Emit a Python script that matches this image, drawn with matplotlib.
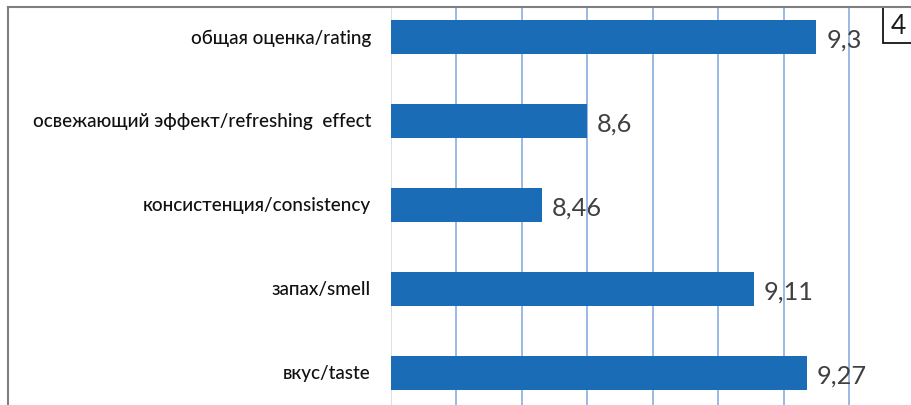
import numpy as np
import matplotlib
matplotlib.use("Agg")
import matplotlib.pyplot as plt
from matplotlib.patches import Rectangle

categories = ["общая оценка/rating",
              "освежающий эффект/refreshing  effect",
              "консистенция/consistency",
              "запах/smell",
              "вкус/taste"]
scores = [9.3, 8.6, 8.46, 9.11, 9.27]
score_labels = ["9,3", "8,6", "8,46", "9,11", "9,27"]
grid_values = [8.2, 8.4, 8.6, 8.8, 9.0, 9.2, 9.4]
panel_label = "4"

plt.rcParams['font.family'] = ['Lato', 'DejaVu Sans']

W, H = 911, 406
fig = plt.figure(figsize=(W / 100, H / 100), dpi=100)

# plot area: from the left axis line to the right edge (cropped picture)
ax = fig.add_axes([391 / W, 0, 520 / W, (H - 8) / H])
ypos = np.arange(len(categories))
ax.barh(ypos, [s - 8.0 for s in scores], left=8.0, height=0.4,
        color="#1a6cb6", zorder=2)
ax.set_xlim(8.0, 9.589)
ax.set_ylim(4.381, -0.357)
for g in grid_values:
    ax.axvline(g, color="#7fa5dc", lw=1.1, zorder=1)
ax.axvline(8.0, color="#d9d9d9", lw=1.2, zorder=1)
for s in ax.spines.values():
    s.set_visible(False)
ax.set_xticks([])
ax.set_yticks([])

for y, s, lab in zip(ypos, scores, score_labels):
    ax.text(s + 0.03, y + 0.03, lab, ha="left", va="center",
            fontsize=18.3, color="#404040", zorder=3)
for y, c in zip(ypos, categories):
    ax.annotate(c, xy=(0, y), xycoords=("axes fraction", "data"),
                xytext=(-20, 0), textcoords="offset pixels",
                ha="right", va="center", fontsize=13.6, color="#111111",
                fontweight="medium")

# outer frame (top and left edges visible)
fig.add_artist(plt.Line2D([8 / W, 1], [1 - 8 / H, 1 - 8 / H],
                          color="#7f7f7f", lw=1.5, transform=fig.transFigure))
fig.add_artist(plt.Line2D([8 / W, 8 / W], [0, 1 - 8 / H],
                          color="#7f7f7f", lw=1.5, transform=fig.transFigure))

# panel number box
fig.add_artist(Rectangle((883 / W, 1 - 44 / H), 40 / W, 36 / H,
                         transform=fig.transFigure, fill=True,
                         facecolor="white", edgecolor="black", lw=1.2))
fig.text(898 / W, 1 - 27 / H, panel_label, ha="center", va="center",
         fontsize=19, color="#1a1a1a")

fig.savefig("out.png", dpi=100)
